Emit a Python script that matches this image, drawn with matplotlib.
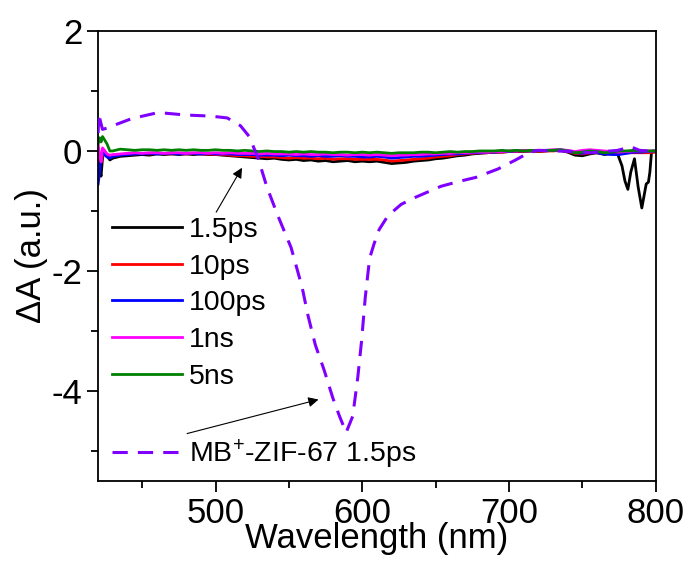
import matplotlib
matplotlib.use("Agg")
import matplotlib.pyplot as plt
from matplotlib.ticker import MultipleLocator
from matplotlib.lines import Line2D

plt.rcParams['font.family'] = ['Liberation Sans', 'DejaVu Sans']
plt.rcParams['axes.unicode_minus'] = False
plt.rcParams['mathtext.default'] = 'regular'

# wavelength grid (nm) for the solid curves
wl_head = [420, 421, 422, 423, 424, 426, 428]
wl_mid = [430, 435, 440, 445, 450, 455, 460, 465, 470, 475, 480, 485, 490, 495, 500, 505, 510, 515, 520,
          525, 530, 535, 540, 545, 550, 555, 560, 565, 570, 575, 580, 585, 590, 595, 600,
          605, 610, 615, 620, 625, 630, 635, 640, 645, 650, 655, 660, 665, 670, 675, 680,
          685, 690, 695, 700, 705, 710, 715, 720, 725, 730, 735, 740, 745, 750, 755, 760, 765, 770]
wl_tail = [775, 780, 785, 790, 795, 800]
wl_black_tail = [774, 777, 779, 781, 783, 785.5, 788, 790.5, 792, 793.5, 795, 796, 797, 798, 800]

black_head = [-0.10, -0.30, -0.42, -0.12, -0.02, -0.08, -0.15]
black_mid = [-0.12, -0.09, -0.08, -0.07, -0.06, -0.07, -0.05, -0.06, -0.05, -0.06, -0.05, -0.06, -0.05, -0.06, -0.06, -0.07, -0.08, -0.09, -0.10,
             -0.11, -0.12, -0.13, -0.12, -0.14, -0.15, -0.14, -0.16, -0.15, -0.17, -0.16, -0.18, -0.17, -0.16, -0.18, -0.17,
             -0.18, -0.17, -0.19, -0.21, -0.20, -0.19, -0.17, -0.16, -0.15, -0.13, -0.12, -0.10, -0.08, -0.07, -0.05, -0.04,
             -0.03, -0.02, -0.02, -0.01, -0.01, 0.00, 0.00, -0.01, 0.00, 0.01, 0.01, -0.02, -0.07, -0.08, -0.05, -0.03, -0.06, -0.04]
black_tail = [-0.05, -0.25, -0.50, -0.64, -0.35, -0.13, -0.60, -0.95, -0.75, -0.55, -0.52, -0.35, -0.05, 0.00, -0.01]

red_head = [-0.05, -0.15, -0.20, -0.05, 0.00, -0.06, -0.10]
red_mid = [-0.08, -0.06, -0.05, -0.05, -0.04, -0.05, -0.04, -0.04, -0.05, -0.04, -0.05, -0.04, -0.05, -0.05, -0.06, -0.06, -0.07, -0.08, -0.08,
           -0.09, -0.09, -0.10, -0.10, -0.11, -0.12, -0.11, -0.12, -0.12, -0.13, -0.12, -0.14, -0.13, -0.13, -0.14, -0.14,
           -0.14, -0.14, -0.15, -0.17, -0.16, -0.15, -0.14, -0.13, -0.12, -0.10, -0.09, -0.08, -0.06, -0.05, -0.04, -0.03,
           -0.03, -0.02, -0.02, -0.01, -0.01, -0.01, 0.00, -0.01, 0.00, 0.00, 0.01, -0.01, -0.04, -0.05, -0.03, -0.03, -0.04, -0.03]
red_tail = [-0.03, -0.03, -0.03, -0.03, -0.03, -0.02]

blue_head = [-0.55, -0.35, -0.10, 0.00, -0.05, -0.10, -0.12]
blue_mid = [-0.09, -0.07, -0.06, -0.05, -0.05, -0.04, -0.05, -0.04, -0.04, -0.05, -0.04, -0.04, -0.05, -0.04, -0.05, -0.05, -0.05, -0.06, -0.06,
            -0.06, -0.07, -0.07, -0.07, -0.08, -0.07, -0.08, -0.08, -0.09, -0.08, -0.09, -0.09, -0.08, -0.09, -0.09, -0.10,
            -0.10, -0.09, -0.10, -0.12, -0.11, -0.10, -0.09, -0.09, -0.08, -0.07, -0.06, -0.05, -0.05, -0.04, -0.03, -0.03,
            -0.02, -0.02, -0.01, -0.01, 0.00, 0.00, 0.00, 0.01, 0.01, 0.01, 0.02, 0.00, -0.03, -0.04, -0.02, -0.03, -0.05, -0.06]
blue_tail = [-0.06, -0.04, -0.02, -0.02, -0.01, 0.00]

magenta_head = [0.10, -0.05, -0.18, 0.05, 0.02, -0.05, -0.07]
magenta_mid = [-0.06, -0.05, -0.04, -0.03, -0.04, -0.03, -0.03, -0.04, -0.03, -0.03, -0.04, -0.03, -0.03, -0.04, -0.03, -0.04, -0.03, -0.04, -0.04,
               -0.04, -0.05, -0.04, -0.05, -0.05, -0.05, -0.06, -0.05, -0.06, -0.06, -0.05, -0.06, -0.06, -0.07, -0.06, -0.06,
               -0.07, -0.06, -0.07, -0.08, -0.07, -0.07, -0.06, -0.06, -0.05, -0.05, -0.04, -0.04, -0.03, -0.03, -0.02, -0.02,
               -0.02, -0.01, -0.01, 0.00, 0.00, 0.01, 0.01, 0.01, 0.01, 0.02, 0.02, 0.01, -0.01, 0.01, 0.02, 0.01, 0.00, -0.01]
magenta_tail = [-0.02, -0.01, 0.00, 0.00, 0.00, 0.00]

green_head = [0.12, 0.22, 0.15, 0.24, 0.20, 0.12, 0.00]
green_mid = [0.00, 0.03, 0.02, 0.01, 0.02, 0.02, 0.01, 0.02, 0.01, 0.02, 0.01, 0.02, 0.01, 0.01, 0.02, 0.01, 0.01, 0.00, 0.01,
             0.00, -0.01, 0.00, -0.01, -0.01, -0.02, -0.01, -0.02, -0.01, -0.02, -0.02, -0.03, -0.02, -0.02, -0.03, -0.02,
             -0.03, -0.02, -0.03, -0.04, -0.03, -0.03, -0.03, -0.02, -0.02, -0.03, -0.02, -0.01, -0.02, -0.01, -0.01, 0.00,
             0.00, 0.00, 0.01, 0.00, 0.01, 0.00, 0.01, 0.00, 0.01, 0.01, 0.02, 0.00, -0.03, -0.02, 0.00, -0.01, -0.03, -0.02]
green_tail = [0.00, 0.00, 0.01, 0.00, 0.00, 0.00]

# MB+-ZIF-67 1.5ps (dashed)
wl_mb = [420, 420.5, 421.5, 423, 426, 430, 443, 461, 479, 497, 508, 517, 523, 529, 535, 542.5, 551.5, 559, 563,
         568, 574, 580, 584.5, 589, 593.5, 597, 599.5, 602, 605, 608, 611.5, 617.5, 626.5, 635.5, 653.5, 665.5,
         677.5, 692.5, 704.5, 713.5, 719.5, 731.5, 743.5, 755.5, 774, 783, 789, 800]
mb = [0.30, 0.63, 0.50, 0.36, 0.38, 0.42, 0.54, 0.64, 0.60, 0.58, 0.55, 0.42, 0.24, -0.12, -0.60, -1.08, -1.61, -2.27, -2.74,
      -3.23, -3.65, -4.12, -4.42, -4.69, -4.42, -3.76, -3.17, -2.45, -1.79, -1.55, -1.31, -1.08, -0.89, -0.78, -0.59, -0.51,
      -0.44, -0.30, -0.15, -0.03, 0.01, 0.00, -0.01, -0.03, 0.01, 0.07, 0.01, -0.01]

labels = ['1.5ps', '10ps', '100ps', '1ns', '5ns']
colors = ['black', '#ff0000', '#0000ff', '#ff00ff', '#008000']

wl = wl_head + wl_mid + wl_tail
series = [
    (wl_head + wl_mid + wl_black_tail, black_head + black_mid + black_tail),
    (wl, red_head + red_mid + red_tail),
    (wl, blue_head + blue_mid + blue_tail),
    (wl, magenta_head + magenta_mid + magenta_tail),
    (wl, green_head + green_mid + green_tail),
]

fig = plt.figure(figsize=(6.91, 5.62), dpi=100)
ax = fig.add_axes([0.142, 0.144, 0.807, 0.801])

handles = []
for (x, y), c, lab in zip(series, colors, labels):
    h, = ax.plot(x, y, color=c, lw=2.0, label=lab)
    handles.append(h)
hmb, = ax.plot(wl_mb, mb, color='#8000ff', lw=2.2, dashes=(5, 3.3), label='MB$^{+}$-ZIF-67 1.5ps', zorder=5)

blank = Line2D([], [], color='none')
leg = ax.legend(handles + [blank, hmb], labels + [' ', 'MB$^{+}$-ZIF-67 1.5ps'],
                loc='upper left', bbox_to_anchor=(-0.006, 0.625), frameon=False, fontsize=20.5,
                handlelength=2.45, handletextpad=0.25, labelspacing=0.38, borderaxespad=0.2)

ax.annotate('', xy=(519, -0.24), xytext=(499.5, -1.06),
            arrowprops=dict(arrowstyle='-|>', color='black', lw=0.8, mutation_scale=15))
ax.annotate('', xy=(572, -4.13), xytext=(478.8, -4.72),
            arrowprops=dict(arrowstyle='-|>', color='black', lw=0.8, mutation_scale=15))

ax.set_xlim(420, 800)
ax.set_ylim(-5.5, 2)
ax.xaxis.set_major_locator(MultipleLocator(100))
ax.xaxis.set_minor_locator(MultipleLocator(50))
ax.yaxis.set_major_locator(MultipleLocator(2))
ax.yaxis.set_minor_locator(MultipleLocator(1))
ax.tick_params(which='major', direction='out', length=8, width=1.3, labelsize=25)
ax.tick_params(which='minor', direction='out', length=5, width=1.3)
for s in ax.spines.values():
    s.set_linewidth(1.3)

ax.set_xlabel('Wavelength (nm)', fontsize=25, labelpad=-6)
ax.set_ylabel('ΔA (a.u.)', fontsize=25, labelpad=2)

fig.savefig('out.png', dpi=100)
